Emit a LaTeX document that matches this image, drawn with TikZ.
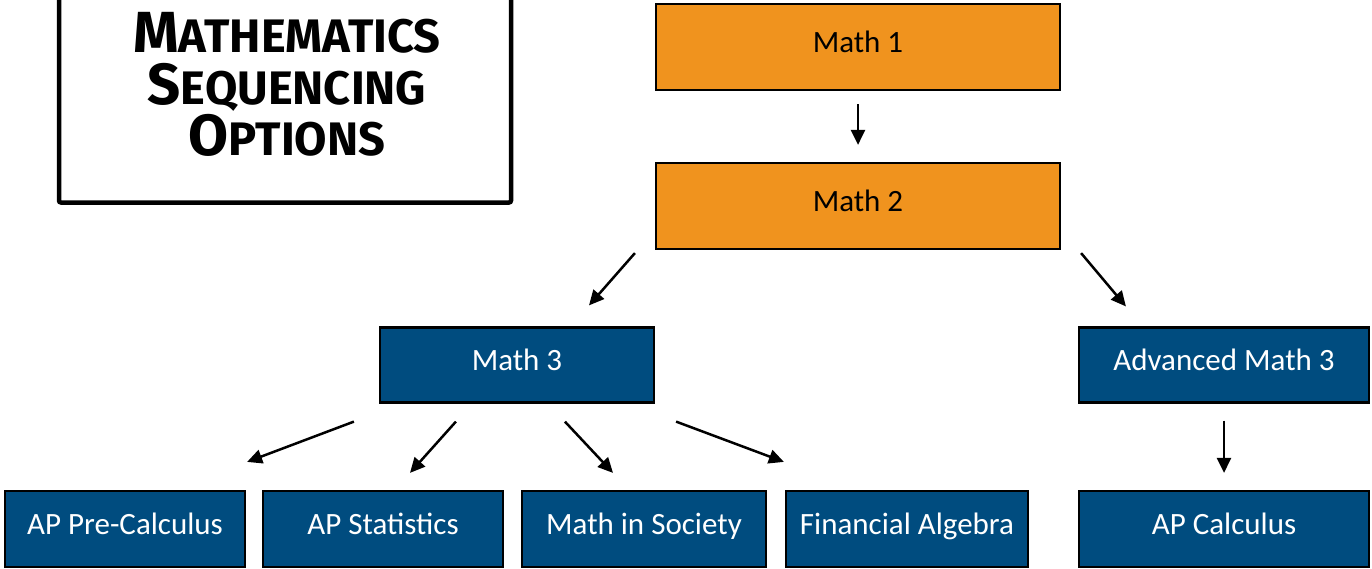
\documentclass[tikz,border=0pt]{standalone}
\usepackage{fontspec}
\setmainfont{Carlito}
\newfontfamily\titlefont{Fira Sans}
\usetikzlibrary{arrows.meta,calc}
\definecolor{boxorange}{RGB}{240,147,30}
\definecolor{boxblue}{RGB}{0,76,127}
\tikzset{
  course/.style={draw=black, line width=2.2pt, inner sep=0pt, font=\fontsize{31}{36}\selectfont, text height=18pt, text depth=8pt},
  orangebox/.style={course, fill=boxorange, text=black, minimum width=404pt, minimum height=86pt},
  bluebox/.style={course, fill=boxblue, text=white, minimum height=76pt},
  arr/.style={line width=2.5pt, -{Triangle[length=15pt,width=14pt]}},
  titletext/.style={font=\titlefont\bfseries, inner sep=0pt, anchor=base, text=black}
}
\newcommand{\bigsc}[2]{{\fontsize{58}{58}\selectfont #1}{\fontsize{47}{47}\selectfont #2}}
\begin{document}
\begin{tikzpicture}[x=1pt,y=-1pt]
\useasboundingbox (0,0) rectangle (1372,568);
% title box
\node[draw=black, line width=4.5pt, rounded corners=2pt, minimum width=452pt, minimum height=225pt, inner sep=0pt] (titlebox) at (285,90) {};
\node[titletext] (t1) at (287,52) {\bigsc{M}{ATHEMATICS}};
\node[titletext] (t2) at (287,104) {\bigsc{S}{EQUENCING}};
\node[titletext] (t3) at (287,155) {\bigsc{O}{PTIONS}};
% orange boxes
\node[orangebox] (m1) at (858,47) {Math 1};
\node[orangebox] (m2) at (858,206) {Math 2};
% blue boxes
\node[bluebox, minimum width=274pt, minimum height=75pt] (m3) at (517,365) {Math 3};
\node[bluebox, minimum width=290pt, minimum height=75pt] (am3) at (1224,365) {Advanced Math 3};
\node[bluebox, minimum width=240pt] (pre) at (125,529) {AP Pre-Calculus};
\node[bluebox, minimum width=240pt] (stat) at (383,529) {AP Statistics};
\node[bluebox, minimum width=244pt] (soc) at (644,529) {Math in Society};
\node[bluebox, minimum width=242pt] (fin) at (907,529) {Financial Algebra};
\node[bluebox, minimum width=290pt] (calc) at (1224,529) {AP Calculus};
% arrows
\draw[arr, shorten <=13pt, shorten >=17pt] (m1) -- (m2);
\draw[arr] ([shift={(-20,3)}]m2.south west) -- ([shift={(72,-21)}]m3.north);
\draw[arr] ([shift={(20,3)}]m2.south east) -- ([shift={(48,-20)}]am3.north west);
\draw[arr] ([shift={(-25,18)}]m3.south west) -- ([shift={(1,-28)}]pre.north east);
\draw[arr] ([shift={(77,18)}]m3.south west) -- ([shift={(27,-17)}]stat.north);
\draw[arr] ([shift={(186,18)}]m3.south west) -- ([shift={(-31,-17)}]soc.north);
\draw[arr] ([shift={(21,18)}]m3.south east) -- ([shift={(-1,-28)}]fin.north west);
\draw[arr, shorten <=17pt, shorten >=17pt] (am3) -- (calc);
\end{tikzpicture}
\end{document}
